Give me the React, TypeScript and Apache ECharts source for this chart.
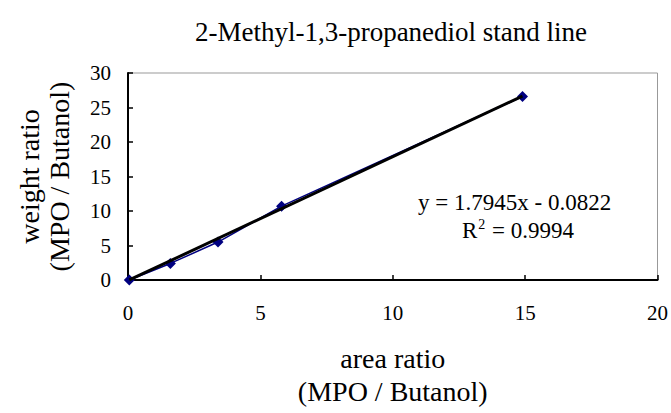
import React, { useEffect, useRef } from "react";
import * as echarts from "echarts";

// Calibration data: area ratio vs weight ratio (MPO / Butanol)
const areaRatio = [0.05, 1.6, 3.4, 5.8, 14.9];
const weightRatio = [0.0, 2.4, 5.5, 10.7, 26.6];

// Linear fit stated on the chart
const slope = 1.7945;
const intercept = -0.0822;
const rSquared = 0.9994;

const xTicks = [0, 5, 10, 15, 20];
const yTicks = [0, 5, 10, 15, 20, 25, 30];

const FONT = "'Liberation Serif', 'Times New Roman', serif";

export default function App() {
  const ref = useRef<HTMLDivElement>(null);

  useEffect(() => {
    if (!ref.current) return;
    const chart = echarts.init(ref.current, undefined, { renderer: "svg" });

    const points = areaRatio.map((x, i) => [x, weightRatio[i]]);
    const xMin = Math.min(...areaRatio);
    const xMax = Math.max(...areaRatio);
    const fit = [
      [xMin, slope * xMin + intercept],
      [xMax, slope * xMax + intercept],
    ];

    chart.setOption({
      animation: false,
      backgroundColor: "#ffffff",
      title: {
        text: "2-Methyl-1,3-propanediol stand line",
        left: 386,
        top: 13,
        textAlign: "center",
        textStyle: { fontFamily: FONT, fontSize: 27, fontWeight: "normal", color: "#000" },
      },
      grid: { left: 128, right: 11, top: 73, bottom: 128, show: true, borderColor: "#999", borderWidth: 1 },
      xAxis: {
        type: "value",
        min: xTicks[0],
        max: xTicks[xTicks.length - 1],
        interval: 5,
        name: "area ratio\n(MPO / Butanol)",
        nameLocation: "middle",
        nameGap: 62,
        nameTextStyle: { fontFamily: FONT, fontSize: 28, color: "#000", lineHeight: 33 },
        axisLine: { lineStyle: { color: "#000", width: 2 } },
        axisTick: { inside: true, length: 5, lineStyle: { color: "#000", width: 1.5 } },
        axisLabel: { fontFamily: FONT, fontSize: 21, color: "#000", margin: 22 },
        splitLine: { show: false },
      },
      yAxis: {
        type: "value",
        min: yTicks[0],
        max: yTicks[yTicks.length - 1],
        interval: 5,
        name: "weight ratio\n(MPO / Butanol)",
        nameLocation: "middle",
        nameGap: 54,
        nameTextStyle: { fontFamily: FONT, fontSize: 28, color: "#000", lineHeight: 30 },
        axisLine: { lineStyle: { color: "#000", width: 2 } },
        axisTick: { inside: true, length: 5, lineStyle: { color: "#000", width: 1.5 } },
        axisLabel: { fontFamily: FONT, fontSize: 21, color: "#000", margin: 17 },
        splitLine: { show: false },
      },
      series: [
        {
          type: "line",
          data: points,
          symbol: "diamond",
          symbolSize: 11,
          itemStyle: { color: "#000080" },
          lineStyle: { color: "#000080", width: 1.5 },
          z: 2,
        },
        {
          type: "line",
          data: fit,
          symbol: "none",
          lineStyle: { color: "#000", width: 3 },
          z: 3,
        },
      ],
      graphic: [
        {
          type: "text",
          left: 418,
          top: 191,
          style: {
            text: `y = ${slope}x - ${Math.abs(intercept).toFixed(4)}`,
            font: `23px ${FONT}`,
            fill: "#000",
          },
        },
        {
          type: "text",
          left: 462,
          top: 217,
          style: {
            text: `R{sup|2} = ${rSquared}`,
            font: `23px ${FONT}`,
            fill: "#000",
            rich: {
              sup: { fontFamily: FONT, fontSize: 14, verticalAlign: "top", lineHeight: 26, padding: [0, 1, 0, 1] },
            },
          },
        },
      ],
    });

    return () => chart.dispose();
  }, []);

  return <div ref={ref} style={{ width: 671, height: 413, position: "absolute", left: 0, top: 0 }} />;
}
